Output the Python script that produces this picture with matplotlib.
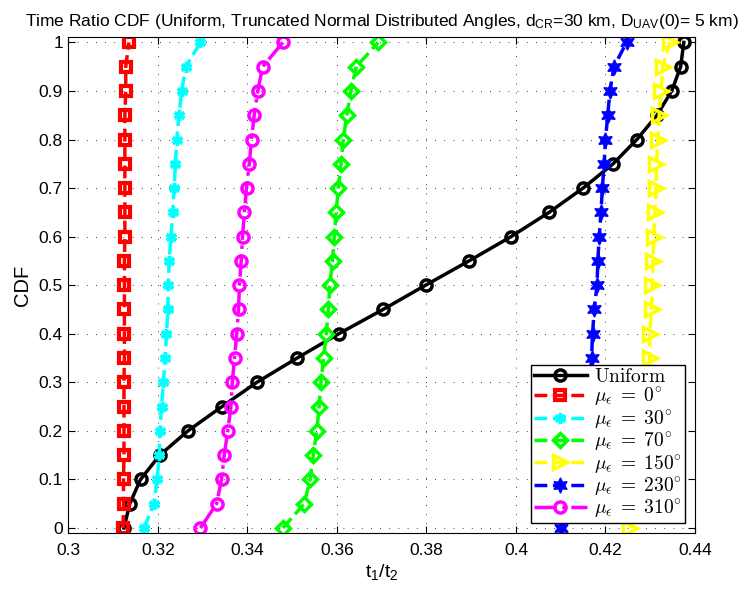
import matplotlib
matplotlib.use('Agg')
import matplotlib.pyplot as plt

plt.rcParams['font.family'] = ['Liberation Sans', 'DejaVu Sans']
plt.rcParams['mathtext.fontset'] = 'custom'
plt.rcParams['mathtext.rm'] = 'Liberation Sans'
plt.rcParams['mathtext.it'] = 'Liberation Sans'

# CDF levels (y) shared by every curve
cdf_levels = [0.0, 0.05, 0.10, 0.15, 0.20, 0.25, 0.30, 0.35, 0.40, 0.45, 0.50,
              0.55, 0.60, 0.65, 0.70, 0.75, 0.80, 0.85, 0.90, 0.95, 1.0]

# time ratio t1/t2, one list per curve
uniform = [0.3124, 0.3137, 0.3161, 0.3204, 0.3267, 0.3343, 0.3421, 0.3511,
           0.3604, 0.3703, 0.3798, 0.3895, 0.3989, 0.4074, 0.4150, 0.4217,
           0.4270, 0.4315, 0.4348, 0.4368, 0.4375]
mu_0 = [0.3122, 0.3123, 0.3123, 0.3124, 0.3124, 0.3124, 0.3124, 0.3125,
        0.3125, 0.3125, 0.3125, 0.3125, 0.3126, 0.3126, 0.3126, 0.3126,
        0.3126, 0.3126, 0.3128, 0.3128, 0.3135]
mu_30 = [0.3169, 0.3191, 0.3198, 0.3203, 0.3204, 0.3208, 0.3212, 0.3216,
         0.3219, 0.3222, 0.3223, 0.3225, 0.3229, 0.3233, 0.3236, 0.3239,
         0.3242, 0.3247, 0.3253, 0.3262, 0.3295]
mu_70 = [0.3479, 0.3527, 0.3540, 0.3547, 0.3555, 0.3560, 0.3564, 0.3570,
         0.3576, 0.3581, 0.3584, 0.3590, 0.3594, 0.3598, 0.3603, 0.3609,
         0.3614, 0.3622, 0.3631, 0.3643, 0.3692]
mu_150 = [0.4255, 0.4278, 0.4284, 0.4288, 0.4291, 0.4294, 0.4297, 0.4299,
          0.4299, 0.4303, 0.4305, 0.4306, 0.4308, 0.4311, 0.4313, 0.4314,
          0.4317, 0.4320, 0.4324, 0.4328, 0.4344]
mu_230 = [0.4100, 0.4143, 0.4150, 0.4154, 0.4157, 0.4161, 0.4165, 0.4169,
          0.4171, 0.4175, 0.4181, 0.4183, 0.4186, 0.4190, 0.4193, 0.4197,
          0.4200, 0.4205, 0.4210, 0.4219, 0.4247]
mu_310 = [0.3295, 0.3331, 0.3342, 0.3348, 0.3356, 0.3363, 0.3366, 0.3371,
          0.3376, 0.3380, 0.3382, 0.3386, 0.3389, 0.3393, 0.3398, 0.3404,
          0.3409, 0.3415, 0.3423, 0.3434, 0.3479]

x_ticks = [0.3, 0.32, 0.34, 0.36, 0.38, 0.4, 0.42, 0.44]
x_tick_labels = ['0.3', '0.32', '0.34', '0.36', '0.38', '0.4', '0.42', '0.44']
y_ticks = [0, 0.1, 0.2, 0.3, 0.4, 0.5, 0.6, 0.7, 0.8, 0.9, 1]
y_tick_labels = ['0', '0.1', '0.2', '0.3', '0.4', '0.5', '0.6', '0.7',
                 '0.8', '0.9', '1']

fig = plt.figure(figsize=(7.55, 5.91), dpi=100)
ax = fig.add_axes([0.0907, 0.0982, 0.8298, 0.8393])

lw = 2.5
ms = 8
mew = 2.5
ax.plot(uniform, cdf_levels, '-', color='black', lw=lw, marker='o', ms=ms,
        mew=mew, mfc='none', label=r'$\mathrm{Uniform}$')
ax.plot(mu_0, cdf_levels, '--', color='red', lw=lw, marker='s', ms=7,
        mew=3, mfc='none', label=r'$\mu_\epsilon\;=\;0^{\circ}$')
ax.plot(mu_30, cdf_levels, '--', color='cyan', lw=lw, marker=(6, 2, 0),
        ms=ms, mew=mew, label=r'$\mu_\epsilon\;=\;30^{\circ}$')
ax.plot(mu_70, cdf_levels, '--', color='#00ff00', lw=lw, marker='D', ms=7,
        mew=mew, mfc='none', label=r'$\mu_\epsilon\;=\;70^{\circ}$')
ax.plot(mu_150, cdf_levels, '--', color='yellow', lw=lw, marker='>', ms=10,
        mew=mew, mfc='none', label=r'$\mu_\epsilon\;=\;150^{\circ}$')
ax.plot(mu_230, cdf_levels, '--', color='blue', lw=lw, marker=(6, 1, 0),
        ms=11, mew=1, label=r'$\mu_\epsilon\;=\;230^{\circ}$')
ax.plot(mu_310, cdf_levels, '-.', color='magenta', lw=lw, marker='o', ms=ms,
        mew=mew, mfc='none', label=r'$\mu_\epsilon\;=\;310^{\circ}$')

ax.set_xlim(0.3, 0.44)
ax.set_ylim(-0.0103, 1.0113)
ax.set_xticks(x_ticks)
ax.set_xticklabels(x_tick_labels)
ax.set_yticks(y_ticks)
ax.set_yticklabels(y_tick_labels)
ax.tick_params(direction='in', top=True, right=True, labelsize=12.5, length=5)
ax.tick_params(axis='x', pad=7)
ax.tick_params(axis='y', pad=4)
ax.grid(True, linestyle=(0, (1, 10)), color='black', linewidth=0.6)

ax.set_xlabel(r'$\mathrm{t}_1/\mathrm{t}_2$', fontsize=14, labelpad=3,
              math_fontfamily='custom')
ax.set_ylabel('CDF', fontsize=14.5, labelpad=5)
ax.set_title(r'Time Ratio CDF (Uniform, Truncated Normal Distributed Angles, '
             r'd$_{\mathrm{CR}}$=30 km, D$_{\mathrm{UAV}}$(0)= 5 km)',
             fontsize=12.5, pad=8)

leg = ax.legend(loc='lower right', prop={'size': 14, 'math_fontfamily': 'cm'},
                fancybox=False, edgecolor='black', framealpha=1,
                handlelength=2.7, borderpad=0.15, labelspacing=0.0,
                handletextpad=0.4, borderaxespad=0.5)
leg.get_frame().set_linewidth(1)

fig.savefig('out.png', dpi=100)
